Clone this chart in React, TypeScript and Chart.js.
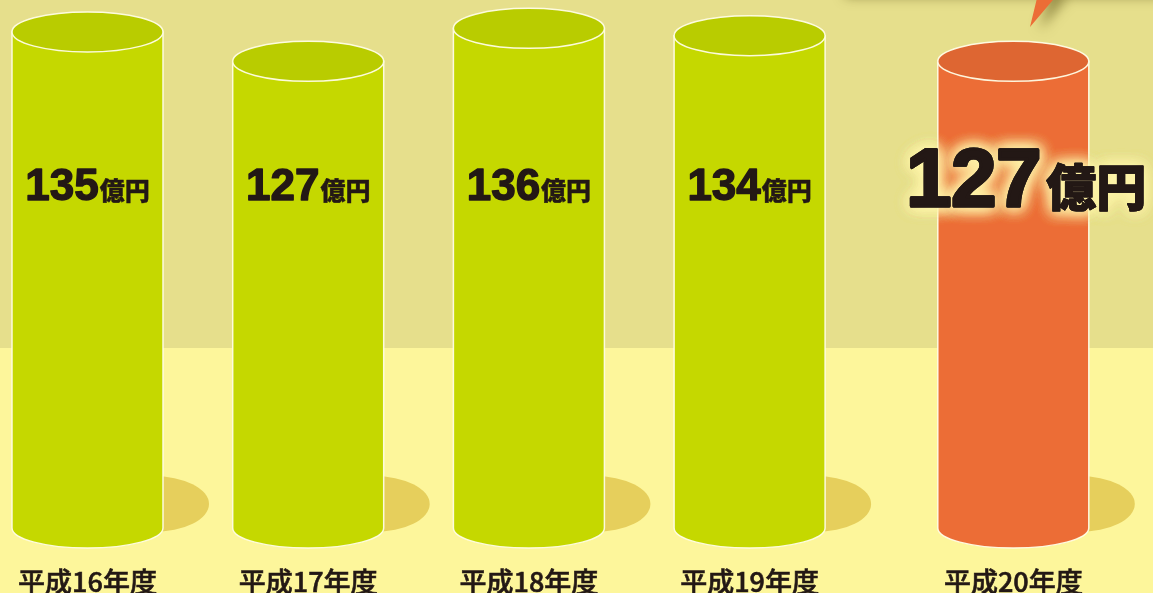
import React, { useEffect, useRef } from 'react';
import { Chart, registerables } from 'chart.js';

Chart.register(...registerables);

// ---- data ----
const categories = ['平成16年度', '平成17年度', '平成18年度', '平成19年度', '平成20年度'];
const values = [135, 127, 136, 134, 127];
const unitLabel = '億円';
const highlightIndex = 4;

// ---- style ----
const BG_TOP = '#e6df8c';
const BG_BOTTOM = '#fdf69b';
const BG_SPLIT = 348;
const BODY = '#c5d800';
const CAP = '#b9cc00';
const BODY_HI = '#ec6d36';
const CAP_HI = '#de6632';
const SHADOW = '#e6cf5c';
const TEXT = '#231815';
const HI_SHIFT = 43;
const CAP_RY = 20;

function drawCylinder(ctx: CanvasRenderingContext2D, cx: number, top: number, bottom: number, w: number, body: string, cap: string) {
  const rx = w / 2;
  const l = cx - rx;
  const r = cx + rx;
  ctx.save();
  ctx.beginPath();
  ctx.moveTo(l, top);
  ctx.lineTo(l, bottom);
  ctx.ellipse(cx, bottom, rx, CAP_RY, 0, Math.PI, 0, true);
  ctx.lineTo(r, top);
  ctx.closePath();
  ctx.fillStyle = body;
  ctx.fill();
  ctx.strokeStyle = 'rgba(255,253,230,0.95)';
  ctx.lineWidth = 1.5;
  ctx.stroke();
  ctx.beginPath();
  ctx.ellipse(cx, top, rx, CAP_RY, 0, 0, Math.PI * 2);
  ctx.fillStyle = cap;
  ctx.fill();
  ctx.stroke();
  ctx.restore();
}

function drawValue(ctx: CanvasRenderingContext2D, cx: number, baseline: number, num: string, big: boolean) {
  const numFont = big ? '700 81px "Liberation Sans", Arial, sans-serif' : '700 44px "Liberation Sans", Arial, sans-serif';
  const unitFont = big ? '900 50px "Noto Sans CJK JP", sans-serif' : '900 25px "Noto Sans CJK JP", sans-serif';
  ctx.save();
  ctx.textBaseline = 'alphabetic';
  ctx.textAlign = 'left';
  ctx.font = numFont;
  const nw = ctx.measureText(num).width;
  ctx.font = unitFont;
  const uw = ctx.measureText(unitLabel).width;
  const gap = big ? 5 : 1;
  const total = nw + gap + uw;
  const x0 = cx - total / 2;
  const draw = () => {
    ctx.fillStyle = TEXT;
    ctx.strokeStyle = TEXT;
    ctx.lineJoin = 'round';
    ctx.font = numFont;
    ctx.lineWidth = big ? 3 : 1.4;
    ctx.fillText(num, x0, baseline);
    ctx.strokeText(num, x0, baseline);
    ctx.font = unitFont;
    ctx.lineWidth = big ? 1 : 0.4;
    ctx.fillText(unitLabel, x0 + nw + gap, baseline);
    ctx.strokeText(unitLabel, x0 + nw + gap, baseline);
  };
  if (big) {
    for (let p = 0; p < 3; p++) {
      ctx.save();
      ctx.shadowColor = 'rgba(255,246,170,0.95)';
      ctx.shadowBlur = 16;
      draw();
      ctx.restore();
    }
  }
  draw();
  ctx.restore();
}

const cylinderPlugin = {
  id: 'cylinders',
  beforeDraw(chart: any) {
    const { ctx, width, height } = chart;
    ctx.save();
    ctx.fillStyle = BG_TOP;
    ctx.fillRect(0, 0, width, BG_SPLIT);
    ctx.fillStyle = BG_BOTTOM;
    ctx.fillRect(0, BG_SPLIT, width, height - BG_SPLIT);
    // speech bubble (body above the frame, tip visible)
    ctx.beginPath();
    ctx.moveTo(835, -80);
    ctx.lineTo(1200, -80);
    ctx.lineTo(1200, -6);
    ctx.lineTo(1058, -6);
    ctx.lineTo(1030, 27);
    ctx.lineTo(1038, -6);
    ctx.lineTo(835, -6);
    ctx.closePath();
    ctx.shadowColor = 'rgba(90,80,20,0.55)';
    ctx.shadowBlur = 12;
    ctx.shadowOffsetX = 10;
    ctx.shadowOffsetY = 3;
    ctx.fillStyle = BODY_HI;
    ctx.fill();
    ctx.restore();
  },
  afterDatasetsDraw(chart: any) {
    const ctx = chart.ctx as CanvasRenderingContext2D;
    const meta = chart.getDatasetMeta(0);
    const bars = meta.data.map((el: any, i: number) => {
      const p = el.getProps(['x', 'y', 'base', 'width'], true);
      const shift = i === highlightIndex ? HI_SHIFT : 0;
      return { cx: p.x + shift, top: p.y, bottom: p.base, w: p.width, i };
    });
    // shadows
    bars.forEach((b: any) => {
      ctx.save();
      ctx.beginPath();
      ctx.ellipse(b.cx + b.w / 2 - 10, b.bottom - 24, 56, 28, 0, 0, Math.PI * 2);
      ctx.fillStyle = SHADOW;
      ctx.fill();
      ctx.restore();
    });
    // cylinders
    bars.forEach((b: any) => {
      const hi = b.i === highlightIndex;
      drawCylinder(ctx, b.cx, b.top, b.bottom, b.w, hi ? BODY_HI : BODY, hi ? CAP_HI : CAP);
    });
    // value labels
    bars.forEach((b: any) => {
      const hi = b.i === highlightIndex;
      drawValue(ctx, hi ? b.cx + 13 : b.cx, hi ? 206 : 200, String(values[b.i]), hi);
    });
    // category labels
    ctx.save();
    ctx.fillStyle = TEXT;
    ctx.strokeStyle = TEXT;
    ctx.lineWidth = 0.6;
    ctx.textAlign = 'center';
    ctx.textBaseline = 'alphabetic';
    ctx.font = '500 27px "Noto Sans CJK JP", sans-serif';
    bars.forEach((b: any) => {
      ctx.fillText(categories[b.i], b.cx, 592);
      ctx.strokeText(categories[b.i], b.cx, 592);
    });
    ctx.restore();
  },
};

export default function App() {
  const ref = useRef<HTMLCanvasElement | null>(null);
  useEffect(() => {
    document.body.style.margin = '0';
    let chart: Chart | null = null;
    let cancelled = false;
    const fontsReady = (document as any).fonts
      ? Promise.all([
          (document as any).fonts.load('700 44px "Liberation Sans"'),
          (document as any).fonts.load('900 25px "Noto Sans CJK JP"', '億円'),
          (document as any).fonts.load('500 27px "Noto Sans CJK JP"', '平成年度'),
        ]).catch(() => null)
      : Promise.resolve(null);
    fontsReady.then(() => {
      if (cancelled || !ref.current) return;
      chart = new Chart(ref.current, {
        type: 'bar',
        data: {
          labels: categories,
          datasets: [
            {
              data: values,
              backgroundColor: 'rgba(0,0,0,0)',
              borderWidth: 0,
              barThickness: 151,
            },
          ],
        },
        options: {
          responsive: false,
          animation: false,
          layout: { padding: { left: 87.5, right: 182.7, top: 13.6, bottom: 65 } },
          scales: {
            x: { display: false, offset: false },
            y: { display: false, min: 0, max: 140 },
          },
          plugins: {
            legend: { display: false },
            tooltip: { enabled: false },
          },
        },
        plugins: [cylinderPlugin],
      } as any);
    });
    return () => {
      cancelled = true;
      if (chart) chart.destroy();
    };
  }, []);
  return (
    <div style={{ position: 'fixed', left: 0, top: 0, width: 1153, height: 593 }}>
      <canvas ref={ref} width={1153} height={593} style={{ display: 'block', width: 1153, height: 593 }} />
    </div>
  );
}
